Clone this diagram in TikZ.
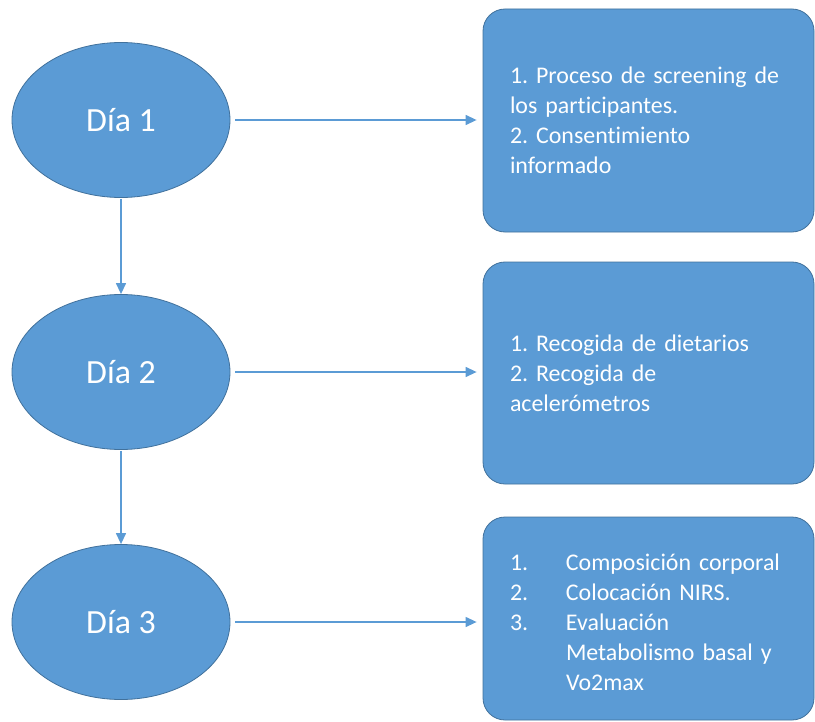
\documentclass[tikz,border=0pt]{standalone}
\usepackage{fontspec}
\setmainfont[Ligatures=CommonOff]{Carlito}
\usepackage{xcolor}
\usepackage{tikz}
\usetikzlibrary{shapes,arrows.meta,positioning,calc}
\definecolor{officeblue}{HTML}{5B9BD5}
\definecolor{officeedge}{HTML}{41719C}
\tikzstyle{day} = [ellipse, draw=officeedge, fill=officeblue, line width=0.8bp, minimum width=218bp, minimum height=155bp, inner sep=0pt, text=white, font=\fontsize{34}{40}\selectfont]
\tikzstyle{task} = [rectangle, rounded corners=22bp, draw=officeedge, fill=officeblue, line width=0.8bp, minimum width=331bp, inner xsep=27bp, inner ysep=0pt, text width=277bp, align=left, text=white, font=\fontsize{24}{30}\selectfont]
\tikzstyle{link} = [draw=officeblue, line width=1.3bp, -{Triangle[length=11bp,width=10bp]}]

\begin{document}
\frenchspacing
\begin{tikzpicture}[x=1bp,y=-1bp]
    \useasboundingbox (0,0) rectangle (815,722);
    % days
    \node[day] (d1) at (121,120) {Día 1};
    \node[day] (d2) at (121,372) {Día 2};
    \node[day] (d3) at (121,622) {Día 3};
    % tasks
    \node[task, minimum height=223bp] (b1) at (648.5,120.5) {1. Proceso de screening de\\los participantes.\\2. Consentimiento\\informado};
    \node[task, minimum height=222bp] (b2) at (648.5,373) {1. Recogida de dietarios\\2. Recogida de\\acelerómetros};
    \node[task, minimum height=203bp] (b3) at (648.5,618.5) {\begin{tabular}{@{}p{56bp}@{}l@{}}
        1.\rule{0pt}{33bp} & Composición corporal\\
        2. & Colocación NIRS.\\
        3. & Evaluación\\
           & Metabolismo basal y\\
           & Vo2max
    \end{tabular}};
    % arrows
    \draw[link, shorten <=1bp] (d1) -- (d2);
    \draw[link, shorten <=1bp] (d2) -- (d3);
    \draw[link, shorten <=5bp, shorten >=6bp] (d1.east) -- (d1.east -| b1.west);
    \draw[link, shorten <=5bp, shorten >=6bp] (d2.east) -- (d2.east -| b2.west);
    \draw[link, shorten <=5bp, shorten >=6bp] (d3.east) -- (d3.east -| b3.west);
\end{tikzpicture}
\end{document}
